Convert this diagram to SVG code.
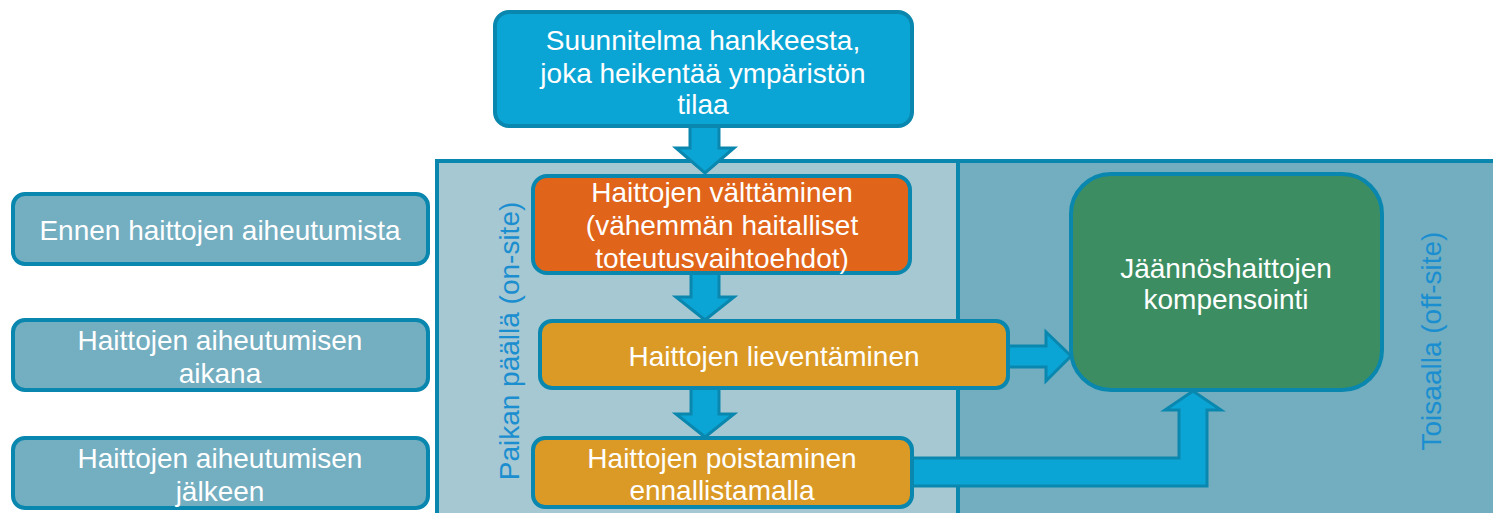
<svg xmlns="http://www.w3.org/2000/svg" width="1493" height="513" viewBox="0 0 1493 513">
<style>
text{font-family:"Liberation Sans",Arial,sans-serif;font-size:28px;fill:#fff;text-anchor:middle}
.box{stroke:#0A87AE;stroke-width:4}
.arr{fill:#0BA5D5;stroke:#0A87AE;stroke-width:3;stroke-linejoin:miter}
.side{fill:#1B8ED0;font-size:28px}
</style>
<rect width="1493" height="513" fill="#fff"/>
<g id="panels">
<rect x="437" y="161" width="521" height="360" fill="#A6C8D3" class="box"/>
<rect x="958" y="161" width="545" height="360" fill="#72AEC0" class="box"/>
<text class="side" transform="translate(519,341) rotate(-90)">Paikan päällä (on-site)</text>
<text class="side" transform="translate(1441,341) rotate(-90)">Toisaalla (off-site)</text>
</g>
<g id="connectors">
<polygon class="arr" points="690,126 719,126 719,148 734,148 705,173 676,148 690,148"/>
<polygon class="arr" points="691,273 719,273 719,297 734,297 705,320 676,297 691,297"/>
<polygon class="arr" points="691,388 719,388 719,414 734,414 705,437 676,414 691,414"/>
<polygon class="arr" points="1008,346 1046,346 1046,332 1071,356 1046,381 1046,367 1008,367"/>
<polygon class="arr" points="912,458 1179,458 1179,410 1165,410 1193,391 1221,410 1207,410 1207,486 912,486"/>
</g>
<g id="top">
<rect class="box" x="495" y="12" width="417" height="114" rx="14" fill="#0BA5D5"/>
<text x="703" y="50">Suunnitelma hankkeesta,</text>
<text x="703" y="83">joka heikentää ympäristön</text>
<text x="703" y="114">tilaa</text>
</g>
<g id="avoid">
<rect class="box" x="533" y="176" width="377" height="97" rx="14" fill="#E0641A"/>
<text x="722" y="202">Haittojen välttäminen</text>
<text x="722" y="235">(vähemmän haitalliset</text>
<text x="722" y="268">toteutusvaihtoehdot)</text>
</g>
<g id="mitigate">
<rect class="box" x="540" y="321" width="468" height="67" rx="12" fill="#DB9A26"/>
<text x="774" y="366">Haittojen lieventäminen</text>
</g>
<g id="restore">
<rect class="box" x="533" y="438" width="379" height="69" rx="12" fill="#DB9A26"/>
<text x="722" y="468">Haittojen poistaminen</text>
<text x="722" y="500">ennallistamalla</text>
</g>
<g id="compensate">
<rect class="box" x="1071" y="174" width="311" height="216" rx="40" fill="#3C8E62"/>
<text x="1226" y="278">Jäännöshaittojen</text>
<text x="1226" y="309">kompensointi</text>
</g>
<g id="before">
<rect class="box" x="13" y="194" width="415" height="70" rx="12" fill="#74AEC1"/>
<text x="220" y="240">Ennen haittojen aiheutumista</text>
</g>
<g id="during">
<rect class="box" x="13" y="320" width="415" height="70" rx="12" fill="#74AEC1"/>
<text x="220" y="350">Haittojen aiheutumisen</text>
<text x="220" y="383">aikana</text>
</g>
<g id="after">
<rect class="box" x="13" y="438" width="415" height="70" rx="12" fill="#74AEC1"/>
<text x="220" y="468">Haittojen aiheutumisen</text>
<text x="220" y="501">jälkeen</text>
</g>
</svg>
